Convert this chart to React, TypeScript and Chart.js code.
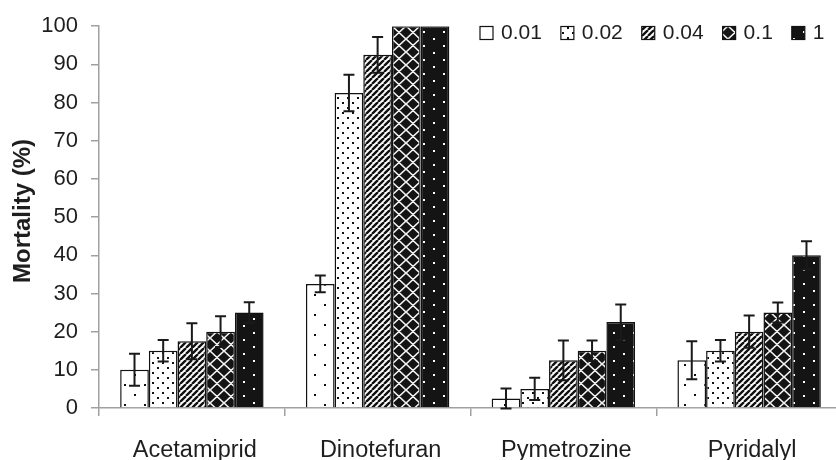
import React, { useEffect, useRef } from 'react';
import { Chart, registerables } from 'chart.js';

Chart.register(...registerables);

// ---- data ----
const categories = ['Acetamiprid', 'Dinotefuran', 'Pymetrozine', 'Pyridalyl'];
const seriesLabels = ['0.01', '0.02', '0.04', '0.1', '1'];

const mort001 = [10, 32.5, 2.5, 12.5];
const mort002 = [15, 82.5, 5, 15];
const mort004 = [17.5, 92.5, 12.5, 20];
const mort01 = [20, 100, 15, 25];
const mort1 = [25, 100, 22.5, 40];

const err001 = [4.2, 2.2, 2.6, 5];
const err002 = [2.8, 4.8, 2.9, 2.8];
const err004 = [4.7, 4.7, 5.2, 4.2];
const err01 = [4, 0, 2.7, 2.6];
const err1 = [2.7, 0, 4.6, 3.7];

const yTicks = [0, 10, 20, 30, 40, 50, 60, 70, 80, 90, 100];
const yTitle = 'Mortality (%)';

const seriesValues = [mort001, mort002, mort004, mort01, mort1];
const seriesErrors = [err001, err002, err004, err01, err1];
const patternKinds = ['sparseDots', 'denseDots', 'diag', 'diamond', 'blackDots'];

const FONT = '"Liberation Sans", Arial, Helvetica, sans-serif';
const TEXT = '#1e1e1e';
const AXIS = '#a0a0a0';

function makePattern(kind: string): CanvasPattern | string {
  const c = document.createElement('canvas');
  let w = 10, h = 10;
  if (kind === 'sparseDots') { w = 20; h = 20; }
  if (kind === 'denseDots') { w = 10; h = 10; }
  if (kind === 'diag') { w = 6; h = 6; }
  if (kind === 'diamond') { w = 14; h = 13; }
  if (kind === 'blackDots') { w = 20; h = 14; }
  c.width = w; c.height = h;
  const ctx = c.getContext('2d')!;
  if (kind === 'sparseDots') {
    ctx.fillStyle = '#fff'; ctx.fillRect(0, 0, w, h);
    ctx.fillStyle = '#111';
    ctx.fillRect(4, 4, 2, 2); ctx.fillRect(14, 14, 2, 2);
  } else if (kind === 'denseDots') {
    ctx.fillStyle = '#fff'; ctx.fillRect(0, 0, w, h);
    ctx.fillStyle = '#111';
    ctx.fillRect(2, 2, 2, 2); ctx.fillRect(7, 7, 2, 2);
  } else if (kind === 'diag') {
    ctx.fillStyle = '#fff'; ctx.fillRect(0, 0, w, h);
    ctx.strokeStyle = '#111'; ctx.lineWidth = 2.4;
    ctx.beginPath();
    for (const o of [-w, 0, w]) { ctx.moveTo(o, h); ctx.lineTo(o + w, 0); }
    ctx.stroke();
  } else if (kind === 'diamond') {
    ctx.fillStyle = '#141414'; ctx.fillRect(0, 0, w, h);
    ctx.strokeStyle = '#f2f2f2'; ctx.lineWidth = 1.6;
    ctx.beginPath();
    for (const o of [-w, 0, w]) {
      ctx.moveTo(o, 0); ctx.lineTo(o + w, h);
      ctx.moveTo(o + w, 0); ctx.lineTo(o, h);
    }
    ctx.stroke();
  } else if (kind === 'blackDots') {
    ctx.fillStyle = '#141414'; ctx.fillRect(0, 0, w, h);
    ctx.fillStyle = '#fff';
    ctx.fillRect(3, 3, 2, 2); ctx.fillRect(13, 10, 2, 2);
  }
  const p = ctx.createPattern(c, 'repeat');
  return p || '#888';
}

const errorBarPlugin = {
  id: 'errorBars',
  afterDatasetsDraw(chart: any) {
    const ctx = chart.ctx;
    const yScale = chart.scales.y;
    ctx.save();
    ctx.strokeStyle = '#1a1a1a';
    ctx.lineWidth = 2;
    chart.data.datasets.forEach((ds: any, i: number) => {
      const meta = chart.getDatasetMeta(i);
      const errs = seriesErrors[i];
      meta.data.forEach((el: any, j: number) => {
        const v = ds.data[j];
        const e = errs[j];
        if (!e) return;
        const x = el.x;
        const yTop = yScale.getPixelForValue(v + e);
        const yBot = yScale.getPixelForValue(v - e);
        const cap = 5.5;
        ctx.beginPath();
        ctx.moveTo(x, yTop); ctx.lineTo(x, yBot);
        ctx.moveTo(x - cap, yTop); ctx.lineTo(x + cap, yTop);
        ctx.moveTo(x - cap, yBot); ctx.lineTo(x + cap, yBot);
        ctx.stroke();
      });
    });
    ctx.restore();
  },
};

const legendPlugin = {
  id: 'customLegend',
  afterDraw(chart: any) {
    const ctx = chart.ctx;
    ctx.save();
    ctx.font = `21px ${FONT}`;
    ctx.textBaseline = 'middle';
    ctx.textAlign = 'left';
    let x = 480;
    const yc = 33;
    chart.data.datasets.forEach((ds: any) => {
      ctx.fillStyle = ds.backgroundColor;
      ctx.fillRect(x, yc - 6.5, 13, 13);
      ctx.strokeStyle = '#111';
      ctx.lineWidth = 1.2;
      ctx.strokeRect(x, yc - 6.5, 13, 13);
      ctx.fillStyle = TEXT;
      ctx.fillText(ds.label, x + 21, yc);
      x += 21 + ctx.measureText(ds.label).width + 19;
    });
    // y-axis title
    ctx.translate(23, 211);
    ctx.rotate(-Math.PI / 2);
    ctx.font = `bold 24px ${FONT}`;
    ctx.textAlign = 'center';
    ctx.textBaseline = 'middle';
    ctx.fillStyle = TEXT;
    ctx.fillText(yTitle, 0, 0);
    ctx.restore();
  },
};

export default function App() {
  const ref = useRef<HTMLCanvasElement | null>(null);
  useEffect(() => {
    if (!ref.current) return;
    const datasets = seriesLabels.map((lab, i) => ({
      label: lab,
      data: seriesValues[i],
      backgroundColor: makePattern(patternKinds[i]) as any,
      borderColor: '#111',
      borderWidth: 1.5,
      barPercentage: 1,
      categoryPercentage: 0.772,
    }));
    const chart = new Chart(ref.current, {
      type: 'bar',
      data: { labels: categories, datasets },
      options: {
        responsive: false,
        animation: false,
        layout: { padding: { top: 25, left: 0, right: 0, bottom: 0 } },
        plugins: { legend: { display: false }, tooltip: { enabled: false } },
        scales: {
          x: {
            grid: { display: true, drawOnChartArea: false, drawTicks: true, tickLength: 8, color: AXIS, lineWidth: 1.5, offset: true },
            border: { display: true, color: AXIS, width: 1.5 },
            ticks: { font: { family: FONT, size: 23.5 }, color: TEXT, padding: 20, labelOffset: 3, maxRotation: 0, autoSkip: false },
            afterFit: (s: any) => { s.height = 52; },
          },
          y: {
            min: 0,
            max: 100,
            afterBuildTicks: (s: any) => { s.ticks = yTicks.map((v) => ({ value: v })); },
            ticks: { font: { family: FONT, size: 22 }, color: TEXT, padding: 13 },
            grid: { drawOnChartArea: false, drawTicks: true, tickLength: 8, color: AXIS, lineWidth: 1.5 },
            border: { display: true, color: AXIS, width: 1.5 },
            title: { display: false },
            afterFit: (s: any) => { s.width = 99; },
          },
        },
      } as any,
      plugins: [errorBarPlugin, legendPlugin],
    });
    return () => chart.destroy();
  }, []);
  return (
    <div style={{ position: 'fixed', left: 0, top: 0, width: 836, height: 460, overflow: 'hidden', background: '#fff' }}>
      <canvas ref={ref} width={842} height={460} style={{ display: 'block', width: 842, height: 460 }} />
    </div>
  );
}
